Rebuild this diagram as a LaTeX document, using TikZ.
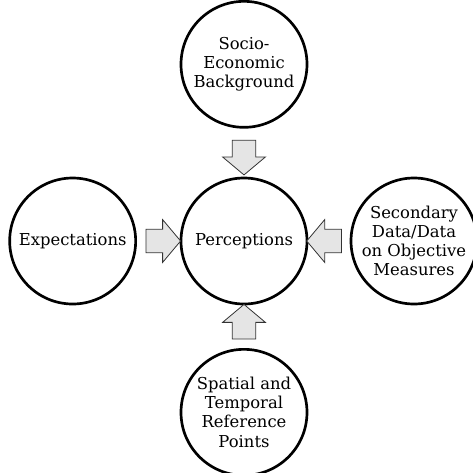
\documentclass[tikz,border=0pt]{standalone}
\usepackage{fontspec}
\setmainfont{DejaVu Serif}
\usetikzlibrary{positioning,shapes.arrows,calc}
\tikzset{
  factor/.style ={draw,circle,line width=2pt,align=center,minimum size=94.5pt,inner sep=0pt,
                  font=\fontsize{12.3}{14.3}\selectfont},
  flow/.style   ={draw=black!80,fill=black!10,line width=0.6pt,single arrow,single arrow head extend=7.25pt,
                  single arrow tip angle=100,single arrow head indent=0pt,
                  minimum height=26pt,inner xsep=0pt,inner ysep=8.5pt}
}
\begin{document}
\begin{tikzpicture}
    \useasboundingbox (-183pt,-173.25pt) rectangle (171.75pt,180.75pt);
    \node[factor] (perc) at (0,0) {Perceptions};
    \node[factor,above=36pt of perc] (socio) {Socio-\\Economic\\Background};
    \node[factor,left=32pt of perc]  (expect) {Expectations};
    \node[factor,right=31pt of perc] (second) {Secondary\\Data/Data\\on Objective\\Measures};
    \node[factor,below=32pt of perc] (spatial) {Spatial and\\Temporal\\Reference\\Points};
    \node[flow,rotate=-90] (f1) at ($(socio.south)!0.5!(perc.north)$) {};
    \node[flow]            (f2) at ($(expect.east)!0.5!(perc.west)$) {};
    \node[flow,rotate=180] (f3) at ($(second.west)!0.5!(perc.east)$) {};
    \node[flow,rotate=90]  (f4) at ($(spatial.north)!0.5!(perc.south)$) {};
  \end{tikzpicture}
\end{document}
